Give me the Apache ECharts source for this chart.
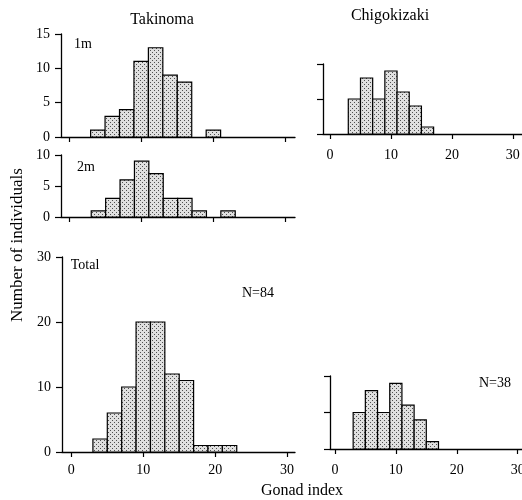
<!DOCTYPE html>
<html><head><meta charset="utf-8">
<script src="https://cdn.jsdelivr.net/npm/echarts@6/dist/echarts.min.js"></script>
<style>html,body{margin:0;padding:0;background:#fff}#c{width:522px;height:500px}</style>
</head><body><div id="c"></div>
<script>
// ---- data ----
const binStarts = [3, 5, 7, 9, 11, 13, 15, 17, 19, 21];
const binWidth = 2;
const tak1m = [1, 3, 4, 11, 13, 9, 8, 0, 1, 0];
const tak2m = [1, 3, 6, 9, 7, 3, 3, 1, 0, 1];
const takTotal = [2, 6, 10, 20, 20, 12, 11, 1, 1, 1];
const chigoTop = [5, 8, 5, 9, 6, 4, 1, 0, 0, 0];
const chigoBottom = [5, 8, 5, 9, 6, 4, 1, 0, 0, 0];
const xTicks = [0, 10, 20, 30];
const xTickLabels = ['0', '10', '20', '30'];
const yTicks1m = [0, 5, 10, 15];
const yTicks2m = [0, 5, 10];
const yTicksTotal = [0, 10, 20, 30];
const yTicksChigo = [0, 5, 10];
const siteNames = ['Takinoma', 'Chigokizaki'];
const panelNames = ['1m', '2m', 'Total'];
const nLabels = ['N=84', 'N=38'];
const xName = 'Gonad index';
const yName = 'Number of individuals';

// ---- pattern ----
const pc = document.createElement('canvas');
pc.width = 4; pc.height = 4;
const g = pc.getContext('2d');
g.fillStyle = '#e0e0e0'; g.fillRect(0, 0, 4, 4);
g.fillStyle = '#505050'; g.fillRect(0, 0, 1, 1); g.fillRect(2, 2, 1, 1);
const pattern = { image: pc, repeat: 'repeat' };

const FONT = 'Liberation Serif';

const panels = [
  { left: 61, top: 34, width: 234, height: 103, xmin: -1.1, xmax: 31.3, ymax: 15, yTicks: yTicks1m, data: tak1m, yLabels: true, xLabels: false, xMargin: 11 },
  { left: 61, top: 155, width: 234, height: 62, xmin: -1.2, xmax: 31.3, ymax: 10, yTicks: yTicks2m, data: tak2m, yLabels: true, xLabels: false, xMargin: 11 },
  { left: 62, top: 257, width: 233, height: 195, xmin: -1.3, xmax: 31.1, ymax: 30, yTicks: yTicksTotal, data: takTotal, yLabels: true, xLabels: true, xMargin: 11 },
  { left: 323, top: 64, width: 199, height: 70, xmin: -1.15, xmax: 31.5, ymax: 10, yTicks: yTicksChigo, data: chigoTop, yLabels: false, xLabels: true, xMargin: 14 },
  { left: 330, top: 376, width: 192, height: 73, xmin: -0.8, xmax: 30.7, ymax: 10, yTicks: yTicksChigo, data: chigoBottom, yLabels: false, xLabels: true, xMargin: 14 }
];

function renderItem(params, api) {
  const x0 = api.value(0), y = api.value(1);
  if (!y) return;
  const p0 = api.coord([x0, 0]);
  const p1 = api.coord([x0 + binWidth, y]);
  return {
    type: 'rect',
    shape: { x: p0[0], y: p1[1], width: p1[0] - p0[0], height: p0[1] - p1[1] },
    style: { fill: pattern, stroke: '#000', lineWidth: 1.2 }
  };
}

const grid = [], xAxis = [], yAxis = [], series = [];
panels.forEach((p, i) => {
  grid.push({ left: p.left, top: p.top, width: p.width, height: p.height, containLabel: false, outerBoundsMode: 'none' });
  xAxis.push({
    gridIndex: i, type: 'value', min: p.xmin, max: p.xmax,
    axisLine: { show: true, onZero: false, lineStyle: { color: '#000', width: 1.3 } },
    axisTick: { show: true, customValues: xTicks, length: 5, lineStyle: { color: '#000', width: 1.2 } },
    axisLabel: { show: p.xLabels, customValues: xTicks, formatter: v => xTickLabels[xTicks.indexOf(v)] || '', color: '#000', fontFamily: FONT, fontSize: 14, margin: p.xMargin },
    splitLine: { show: false }
  });
  yAxis.push({
    gridIndex: i, type: 'value', min: 0, max: p.ymax,
    axisLine: { show: true, onZero: false, lineStyle: { color: '#000', width: 1.3 } },
    axisTick: { show: true, customValues: p.yTicks, length: 6, lineStyle: { color: '#000', width: 1.2 } },
    axisLabel: { show: p.yLabels, customValues: p.yTicks, color: '#000', fontFamily: FONT, fontSize: 14, margin: 11 },
    splitLine: { show: false }
  });
  series.push({
    type: 'custom', xAxisIndex: i, yAxisIndex: i, renderItem: renderItem,
    data: binStarts.map((b, k) => [b, p.data[k]]), silent: true, animation: false, clip: false
  });
});

const txt = (x, y, text, size, extra) => Object.assign({
  type: 'text', x: x, y: y,
  style: { text: text, fill: '#000', font: size + 'px "' + FONT + '"', textAlign: 'center', textVerticalAlign: 'middle' }
}, extra || {});

const graphic = [
  txt(162, 20, siteNames[0], 16),
  txt(390, 16, siteNames[1], 16),
  txt(83, 44, panelNames[0], 14),
  txt(86, 167, panelNames[1], 14),
  txt(85, 265, panelNames[2], 14),
  txt(258, 293, nLabels[0], 14),
  txt(495, 383, nLabels[1], 14),
  txt(302, 491, xName, 16),
  txt(18, 245, yName, 17, { rotation: Math.PI / 2 })
];

const chart = echarts.init(document.getElementById('c'), null, { renderer: 'canvas' });
chart.setOption({ animation: false, grid, xAxis, yAxis, series, graphic });
</script>
</body></html>
